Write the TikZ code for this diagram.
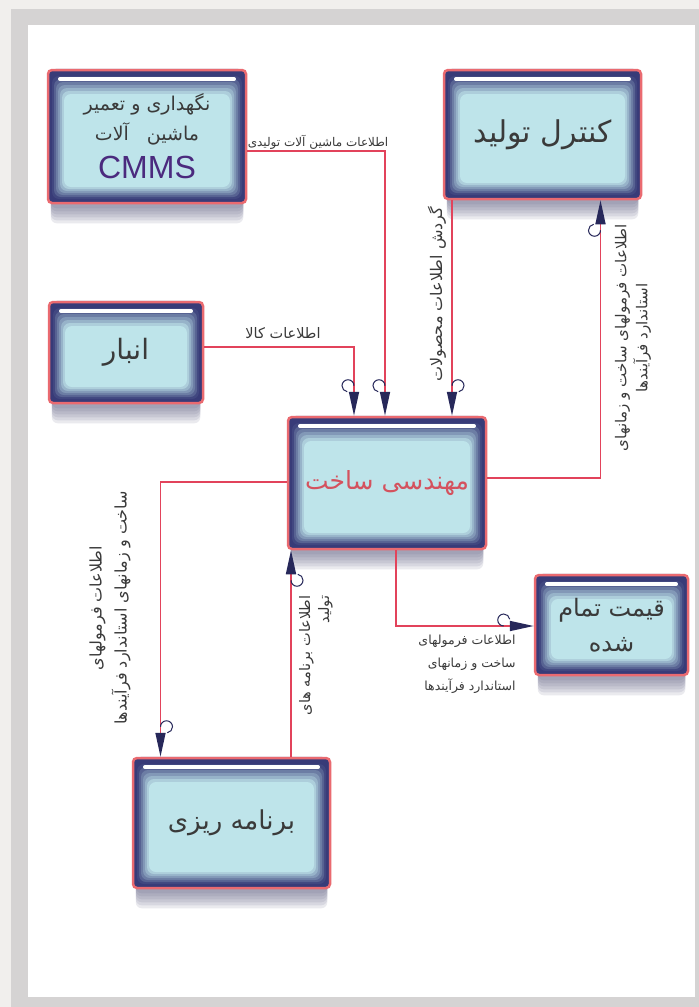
\documentclass[tikz,border=0pt]{standalone}
\usepackage{fontspec}
\setmainfont{DejaVu Sans}
\newfontfamily\farsi[Script=Arabic]{DejaVu Sans}
\newfontfamily\latinsans{Liberation Sans}
\TeXXeTstate=1
\usetikzlibrary{arrows.meta,positioning,calc,backgrounds}
\usepackage{xcolor}

\definecolor{bgout}{HTML}{F1EFED}
\definecolor{framegray}{HTML}{D5D3D3}
\definecolor{boxred}{HTML}{EA6A70}
\definecolor{boxnavy}{HTML}{383B78}
\definecolor{boxcyan}{HTML}{BEE4EA}
\definecolor{linered}{HTML}{E2435B}
\definecolor{tipnavy}{HTML}{27285A}
\definecolor{txtgray}{HTML}{3A3A3A}
\definecolor{mohred}{HTML}{D4525E}
\definecolor{cmmspurple}{HTML}{4B2A7E}
\definecolor{shadowc}{HTML}{5E5E82}

\newcommand{\fa}[1]{{\farsi\beginR #1\endR}}

\tikzset{
  panel/.style={draw=boxred, line width=2.5pt, rounded corners=4pt, fill=boxnavy,
    text=txtgray, align=center,
    path picture={
      \foreach \d [evaluate=\d as \p using {int(max(0,min(100,125-8*\d)))}] in {2,4,...,16}
        \fill[boxnavy!\p!boxcyan, rounded corners=7pt]
          ($(path picture bounding box.south west)+(\d pt,\d pt)$) rectangle
          ($(path picture bounding box.north east)+(-\d pt,{-1.5pt*\d})$);
      \draw[white, line width=4pt, line cap=round]
        ($(path picture bounding box.north west)+(12pt,-9pt)$) --
        ($(path picture bounding box.north east)+(-12pt,-9pt)$);
    }},
  flow/.style={draw=linered, line width=1.6pt,
    -{Triangle[length=24pt,width=10pt,color=tipnavy]}},
  tag/.style={font=\fontsize{13}{19}\selectfont, text=txtgray},
  sidetag/.style={tag, rotate=90, font=\fontsize{16}{21}\selectfont},
  curl/.pic={\draw[tipnavy, line width=1pt] (0pt,6pt) arc[start angle=0, end angle=262, radius=6pt];}
}

\begin{document}
\begin{tikzpicture}[x=1pt, y=-1pt]
  \useasboundingbox (0,0) rectangle (699,1007);

  % boxes
  \node[panel, minimum width=198pt, minimum height=133pt, font=\fontsize{19}{30}\selectfont] (cmms) at (147,136.5)
    {\fa{نگهداری و تعمیر}\\ \fa{ماشین~~~آلات}\\[8pt] {\latinsans\fontsize{32}{32}\selectfont\color{cmmspurple}CMMS}};
  \node[panel, minimum width=197pt, minimum height=129pt, font=\fontsize{30}{30}\selectfont] (ctrl) at (542.5,134.5) {\fa{کنترل تولید}};
  \node[panel, minimum width=154pt, minimum height=101pt, font=\fontsize{28}{30}\selectfont] (anbar) at (126,352.5) {\fa{انبار}};
  \node[panel, minimum width=198pt, minimum height=132pt, font=\fontsize{25}{30}\selectfont, text=mohred] (moh) at (387,483) {\fa{مهندسی ساخت}};
  \node[panel, minimum width=153pt, minimum height=100pt, font=\fontsize{24}{35}\selectfont] (price) at (611.5,625) {\fa{قیمت تمام}\\ \fa{شده}};
  \node[panel, minimum width=197pt, minimum height=130pt, font=\fontsize{26}{30}\selectfont] (plan) at (231.5,823) {\fa{برنامه ریزی}};

  % labels
  \node[tag, font=\fontsize{12}{19}\selectfont] (tcmms) at (318,142) {\fa{اطلاعات ماشین آلات تولیدی}};
  \node[tag, font=\fontsize{14.5}{19}\selectfont] (tanbar) at (283,333) {\fa{اطلاعات کالا}};
  \node[sidetag] (tctrl) at (437,294) {\fa{گردش اطلاعات محصولات}};
  \node[sidetag, align=center, font=\fontsize{15}{21}\selectfont] (tback) at (633,338)
    {\fa{اطلاعات فرمولهای ساخت و زمانهای}\\ \fa{استاندارد فرآیندها}};
  \node[sidetag, align=center, font=\fontsize{16}{25}\selectfont] (tplanin) at (110,608)
    {\fa{اطلاعات فرمولهای}\\ \fa{ساخت و زمانهای استاندارد فرآیندها}};
  \node[sidetag, align=right, anchor=east, font=\fontsize{14.5}{19}\selectfont] (tplanout) at (316,592)
    {\fa{اطلاعات برنامه های}\\ \fa{تولید}};
  \node[tag, align=right, font=\fontsize{12.5}{23}\selectfont] (tprice) at (467,664)
    {\fa{اطلاعات فرمولهای}\\ \fa{ساخت و زمانهای}\\ \fa{استاندارد فرآیندها}};

  % connectors
  \draw[flow] ([yshift=-14.5pt]cmms.east) -| ([xshift=-2pt]moh.north);
  \draw[flow] ([yshift=5.5pt]anbar.east) -| ([xshift=-33pt]moh.north);
  \draw[flow] ([xshift=-90.5pt]ctrl.south) -- ([xshift=65pt]moh.north);
  \draw[flow] ([yshift=5pt]moh.east) -| ([xshift=58pt]ctrl.south);
  \draw[flow] ([yshift=1pt]moh.west) -| ([xshift=-71pt]plan.north);
  \draw[flow] ([xshift=59.5pt]plan.north) -- ([xshift=-96pt]moh.south);
  \draw[flow] ([xshift=9pt]moh.south) |- ([yshift=-1pt]price.west);

  % little curls at the arrow heads
  \pic at ([xshift=-2pt,yshift=24pt]moh.north) {curl};
  \pic at ([xshift=-33pt,yshift=24pt]moh.north) {curl};
  \pic[xscale=-1] at ([xshift=65pt,yshift=24pt]moh.north) {curl};
  \pic[yscale=-1] at ([xshift=58pt,yshift=-24pt]ctrl.south) {curl};
  \pic[xscale=-1] at ([xshift=-71pt,yshift=24pt]plan.north) {curl};
  \pic[rotate=180] at ([xshift=-96pt,yshift=-24pt]moh.south) {curl};
  \pic[rotate=90,xscale=-1] at ([xshift=-24pt,yshift=-1pt]price.west) {curl};

  % frame and shadows
  \begin{scope}[on background layer]
    \fill[bgout] (0,0) rectangle (699,1007);
    \fill[framegray] (11,9) rectangle (699,1007);
    \fill[white] (28,25) rectangle (695,997);
    \foreach \n in {cmms,ctrl,anbar,moh,price,plan}
      \foreach \k in {0,...,5}
        \fill[shadowc, opacity=0.13, rounded corners=6pt]
          ($(\n.north west)+(4pt,0pt)$) rectangle ($(\n.south east)+(-4pt,{-4pt-3pt*\k})$);
  \end{scope}
\end{tikzpicture}
\end{document}
